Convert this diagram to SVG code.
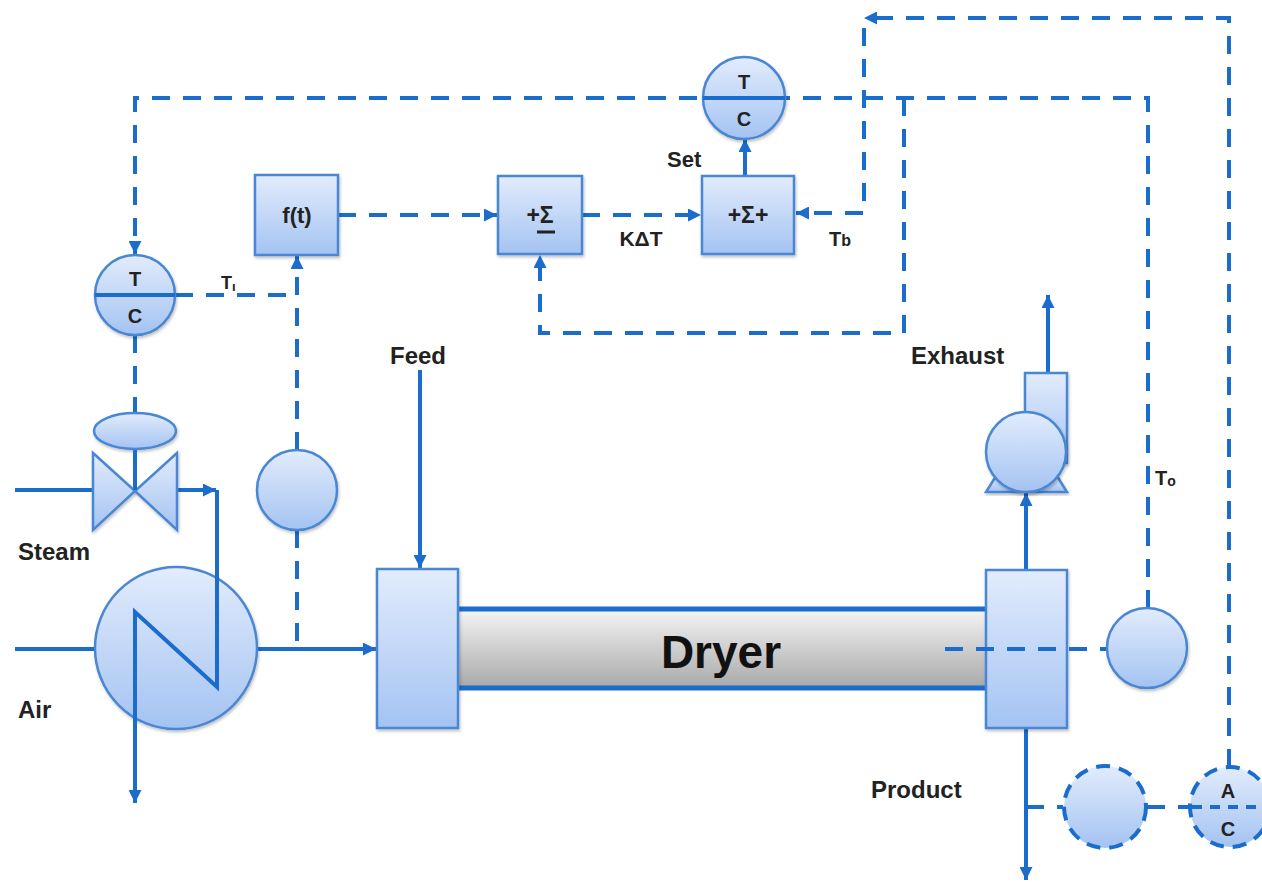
<svg xmlns="http://www.w3.org/2000/svg" width="1262" height="883" viewBox="0 0 1262 883">
<style>
.ln{fill:none;stroke:#1a6dcc;stroke-width:4}
.ds{fill:none;stroke:#1a6dcc;stroke-width:4;stroke-dasharray:18 13}
.sh{fill:url(#gb);stroke:#4a87d4;stroke-width:2.5;filter:url(#shd)}
.dsh{fill:url(#gb);stroke:#1a6dcc;stroke-width:4;stroke-dasharray:14 9}
.t{font-family:"Liberation Sans",Arial,sans-serif;font-weight:bold;fill:#222}
</style>
<defs>
<linearGradient id="gb" x1="0" y1="0" x2="0" y2="1"><stop offset="0" stop-color="#e2ecfc"/><stop offset="1" stop-color="#a4c3f2"/></linearGradient>
<linearGradient id="gg" x1="0" y1="0" x2="0" y2="1"><stop offset="0" stop-color="#f4f4f4"/><stop offset="1" stop-color="#a9a9a9"/></linearGradient>
<filter id="shd" x="-20%" y="-20%" width="140%" height="140%"><feDropShadow dx="1" dy="2" stdDeviation="1.5" flood-color="#000" flood-opacity="0.25"/></filter>
<marker id="ar" viewBox="0 0 10 10" refX="10" refY="5" markerWidth="13" markerHeight="13" markerUnits="userSpaceOnUse" orient="auto"><path d="M0,0 L10,5 L0,10 z" fill="#1a6dcc"/></marker>
</defs>

<g id="connectors">
<path class="ds" d="M1148,608 V98 H135 V254" marker-end="url(#ar)"/>
<path class="ds" d="M904,98 V333 H540 V255" marker-end="url(#ar)"/>
<path class="ds" d="M175,295 H297"/>
<path class="ds" d="M297,450 V256" marker-end="url(#ar)"/>
<path class="ds" d="M297,530 V649"/>
<path class="ds" d="M135,335 V413"/>
<path class="ds" d="M338,215 H497" marker-end="url(#ar)"/>
<path class="ds" d="M582,215 H701" marker-end="url(#ar)"/>
<path class="ln" d="M745,176 V139" marker-end="url(#ar)"/>
<path class="ds" d="M1229,767 V18 H864" marker-end="url(#ar)"/>
<path class="ds" d="M864,28 V213 H796" marker-end="url(#ar)"/>
<path class="ds" d="M1026,807 H1063"/>
<path class="ds" d="M1147,807 H1190"/>
<path class="ln" d="M15,649 H95"/>
<path class="ln" d="M257,649 H376" marker-end="url(#ar)"/>
<path class="ln" d="M15,490 H94"/>
<path class="ln" d="M177,490 H216" marker-end="url(#ar)"/>
<path class="ln" d="M420,370 V568" marker-end="url(#ar)"/>
<path class="ln" d="M1026,570 V493" marker-end="url(#ar)"/>
<path class="ln" d="M1048,373 V295" marker-end="url(#ar)"/>
<path class="ln" d="M1026,728 V880" marker-end="url(#ar)"/>
<path class="ln" d="M135,450 V490"/>
</g>

<g id="heat-exchanger">
<circle class="sh" cx="176" cy="648" r="81"/>
<path class="ln" d="M217,490 V687 L135,612 V803" marker-end="url(#ar)"/>
</g>

<g id="valve">
<ellipse class="sh" cx="135" cy="431" rx="41" ry="18"/>
<polygon class="sh" points="93,453 135,491 93,530"/>
<polygon class="sh" points="177,453 135,491 177,530"/>
<path class="ln" d="M135,450 V490"/>
</g>

<g id="tc-left">
<circle class="sh" cx="135" cy="295" r="40"/>
<path class="ln" d="M95,295 H175"/>
<text class="t" x="135" y="286" font-size="20" text-anchor="middle">T</text>
<text class="t" x="135" y="323" font-size="20" text-anchor="middle">C</text>
</g>

<g id="tc-top">
<circle class="sh" cx="744" cy="98" r="41"/>
<path class="ln" d="M703,98 H785"/>
<text class="t" x="744" y="89" font-size="20" text-anchor="middle">T</text>
<text class="t" x="744" y="126" font-size="20" text-anchor="middle">C</text>
</g>

<g id="ti-sensor"><circle class="sh" cx="297" cy="490" r="40"/></g>

<g id="ft"><rect class="sh" x="255" y="175" width="83" height="80"/>
<text class="t" x="297" y="223" font-size="22" text-anchor="middle">f(t)</text></g>

<g id="sum1"><rect class="sh" x="498" y="176" width="84" height="78"/>
<text class="t" x="540" y="223" font-size="23" text-anchor="middle">+Σ</text>
<line x1="537" y1="232" x2="555" y2="232" stroke="#222" stroke-width="3"/></g>

<g id="sum2"><rect class="sh" x="702" y="176" width="92" height="78"/>
<text class="t" x="748" y="223" font-size="23" text-anchor="middle">+Σ+</text></g>

<g id="dryer">
<rect x="458" y="610" width="528" height="77" fill="url(#gg)"/>
<path class="ln" d="M458,609 H986 M458,688 H986" style="stroke-width:5"/>
<rect class="sh" x="377" y="569" width="81" height="159"/>
<rect class="sh" x="986" y="570" width="81" height="158"/>
<text class="t" x="721" y="668" font-size="46" text-anchor="middle" style="fill:#111">Dryer</text>
</g>

<g id="to-sensor">
<path class="ds" d="M945,649 H1107"/>
<circle class="sh" cx="1147" cy="648" r="40"/>
</g>

<g id="fan">
<rect class="sh" x="1025" y="373" width="42" height="90"/>
<polygon class="sh" points="996,476 1057,476 1067,492 986,492"/>
<circle class="sh" cx="1026" cy="452" r="40"/>
</g>

<g id="product-sensor"><circle class="dsh" cx="1105" cy="807" r="41"/></g>

<g id="ac">
<circle class="dsh" cx="1230" cy="807" r="40"/>
<path class="ds" d="M1192,807 H1262" style="stroke-dasharray:10 8"/>
<text class="t" x="1228" y="798" font-size="20" text-anchor="middle">A</text>
<text class="t" x="1228" y="836" font-size="20" text-anchor="middle">C</text>
</g>

<g id="labels">
<text class="t" x="18" y="560" font-size="24">Steam</text>
<text class="t" x="18" y="718" font-size="24">Air</text>
<text class="t" x="390" y="364" font-size="24">Feed</text>
<text class="t" x="911" y="364" font-size="24">Exhaust</text>
<text class="t" x="871" y="798" font-size="24">Product</text>
<text class="t" x="667" y="167" font-size="22">Set</text>
<text class="t" x="641" y="246" font-size="21" text-anchor="middle">KΔT</text>
<text class="t" x="221" y="289" font-size="18">T<tspan font-size="13" dy="2">ı</tspan></text>
<text class="t" x="829" y="246" font-size="20">T<tspan font-size="16">b</tspan></text>
<text class="t" x="1155" y="485" font-size="20">T<tspan font-size="14" dy="1">o</tspan></text>
</g>
</svg>
